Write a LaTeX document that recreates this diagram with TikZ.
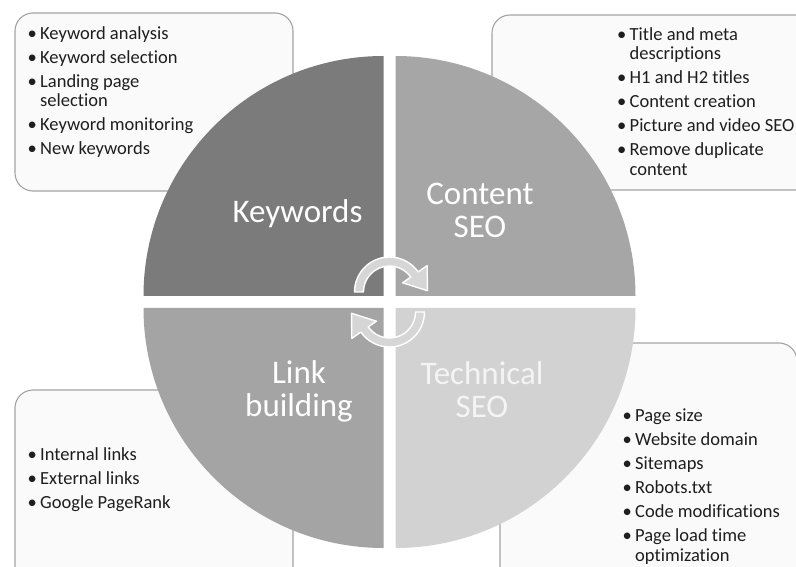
\documentclass[tikz,border=0pt]{standalone}
\usepackage{fontspec}
\setmainfont{Carlito}[Ligatures=NoCommon]
\definecolor{boxfill}{HTML}{FAFAFA}
\definecolor{boxline}{HTML}{A3A3A3}
\definecolor{qkw}{HTML}{7B7B7B}
\definecolor{qcs}{HTML}{A6A6A6}
\definecolor{qlb}{HTML}{A4A4A4}
\definecolor{qts}{HTML}{D2D2D2}
\definecolor{arrowfill}{HTML}{D6D6D6}
\definecolor{listtext}{HTML}{1E1E1E}
\definecolor{techtext}{HTML}{F4F4F4}
\newcommand\bul{\makebox[12.5pt][l]{•}}
\newcommand\cont{\hspace*{12.5pt}}
\begin{document}
\begin{tikzpicture}[x=1pt,y=1pt,
  infobox/.style={draw=boxline,fill=boxfill,line width=1.1pt,rounded corners=18pt},
  biglabel/.style={text=white,font=\fontsize{33}{33}\selectfont,inner sep=0pt,anchor=north,align=center},
  listnode/.style={text=listtext,font=\fontsize{18.5}{19.6}\selectfont,inner sep=0pt,anchor=north west,align=left},
  cycarrow/.style={fill=arrowfill,draw=white,line width=1.4pt,line join=round}]
\useasboundingbox (0,0) rectangle (796,566);
\clip (0,0) rectangle (796,566);
\fill[white] (0,0) rectangle (796,566);
% info boxes
\draw[infobox] (15,375) rectangle (293,553);
\draw[infobox] (492,376) rectangle (830,551);
\draw[infobox] (15,-20) rectangle (293,176);
\draw[infobox] (500,-30) rectangle (797,223);
% quadrants
\fill[qkw] (383.5,270) -- (143.5,270) arc[start angle=180,end angle=90,radius=240] -- cycle;
\fill[qcs] (395.5,270) -- (395.5,510) arc[start angle=90,end angle=0,radius=240] -- cycle;
\fill[qlb] (383.5,258) -- (383.5,18) arc[start angle=270,end angle=180,radius=240] -- cycle;
\fill[qts] (395.5,258) -- (635.5,258) arc[start angle=0,end angle=-90,radius=240] -- cycle;
% cycle arrows
\begin{scope}[shift={(389.5,274)}]
\draw[cycarrow] (180:35) arc[start angle=180,end angle=35,radius=35] -- (35:46) -- (2:38) -- (35:16) -- (35:26) arc[start angle=35,end angle=180,radius=26] -- cycle;
\end{scope}
\begin{scope}[shift={(389.5,254)},rotate=180]
\draw[cycarrow] (180:35) arc[start angle=180,end angle=35,radius=35] -- (35:46) -- (2:38) -- (35:16) -- (35:26) arc[start angle=35,end angle=180,radius=26] -- cycle;
\end{scope}
% quadrant labels
\node[biglabel] (kw) at (297.5,371) {\rule{0pt}{27pt}Keywords};
\node[biglabel] (cs) at (480,389) {\rule{0pt}{27pt}Content\\SEO};
\node[biglabel] (lb) at (299,210) {\rule{0pt}{27pt}Link\\building};
\node[biglabel,text=techtext] (ts) at (482,209) {\rule{0pt}{27pt}Technical\\SEO};
% lists
\node[listnode] (kwlist) at (27.5,541.5) {\rule{0pt}{14.5pt}\bul Keyword analysis\\[4.4pt]\bul Keyword selection\\[4.4pt]\bul Landing page\\\cont selection\\[4.4pt]\bul Keyword monitoring\\[4.4pt]\bul New keywords};
\node[listnode] (cslist) at (617,540.5) {\rule{0pt}{14.5pt}\bul Title and meta\\\cont descriptions\\[4.4pt]\bul H1 and H2 titles\\[4.4pt]\bul Content creation\\[4.4pt]\bul Picture and video SEO\\[4.4pt]\bul Remove duplicate\\\cont content};
\node[listnode] (lblist) at (27.5,120.5) {\rule{0pt}{14.5pt}\bul Internal links\\[4.4pt]\bul External links\\[4.4pt]\bul Google PageRank};
\node[listnode] (tslist) at (622.5,158.8) {\rule{0pt}{14.5pt}\bul Page size\\[4.4pt]\bul Website domain\\[4.4pt]\bul Sitemaps\\[4.4pt]\bul Robots.txt\\[4.4pt]\bul Code modifications\\[4.4pt]\bul Page load time\\\cont optimization};
\end{tikzpicture}
\end{document}
